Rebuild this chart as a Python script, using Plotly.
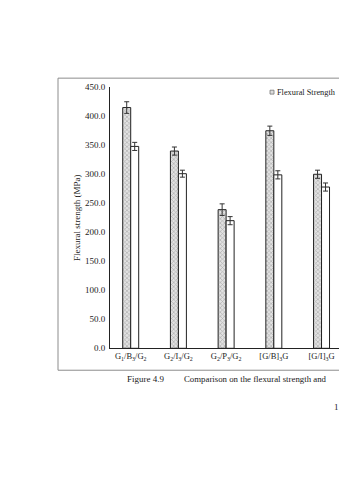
import plotly.graph_objects as go

categories = ["G<sub>1</sub>/B<sub>3</sub>/G<sub>2</sub>",
              "G<sub>2</sub>/I<sub>3</sub>/G<sub>2</sub>",
              "G<sub>2</sub>/P<sub>3</sub>/G<sub>2</sub>",
              "[G/B]<sub>3</sub>G",
              "[G/I]<sub>3</sub>G"]
strength_a = [415, 340, 239, 375, 300]
strength_a_err = [10, 7, 10, 8, 7]
strength_b = [348, 301, 220, 299, 278]
strength_b_err = [7, 6, 7, 7, 7]
y_ticks = [0, 50, 100, 150, 200, 250, 300, 350, 400, 450]
legend_label = "Flexural Strength"

W, H = 339, 480
FONT = "Liberation Serif"

fig = go.Figure()
fig.add_trace(go.Bar(
    x=categories, y=strength_a, name="Flexural Strength",
    marker=dict(color="white", line=dict(color="#222", width=1),
                pattern=dict(shape="x", fgcolor="#7a7a7a", bgcolor="#e2e2e2", size=3, solidity=0.4)),
    error_y=dict(type="data", array=strength_a_err, color="#333", thickness=1, width=2.5),
    showlegend=False,
))
fig.add_trace(go.Bar(
    x=categories, y=strength_b, name="Flexural Modulus",
    marker=dict(color="white", line=dict(color="#222", width=1)),
    error_y=dict(type="data", array=strength_b_err, color="#333", thickness=1, width=2.5),
    showlegend=False,
))

x0 = 110 / W
y_bot = 1 - 350.6 / H
y_top = 1 - 84 / H

def px(x):
    return x / W

def py(y):
    return 1 - y / H

frame_path = f"M {1.0},{py(74.7)} L {px(58)},{py(74.7)} L {px(58)},{py(373)} L {1.0},{py(373)}"

shapes = [
    dict(type="path", xref="paper", yref="paper", path=frame_path,
         line=dict(color="#8c8c8c", width=1), layer="below"),
    dict(type="rect", xref="paper", yref="paper", x0=px(270), x1=px(274), y0=py(91), y1=py(87),
         line=dict(color="#777", width=0.8), fillcolor="#dcdcdc"),
]

fig.update_layout(
    width=W, height=H, margin=dict(l=0, r=0, t=0, b=0),
    paper_bgcolor="white", plot_bgcolor="rgba(0,0,0,0)",
    barmode="group", bargap=0.665, bargroupgap=0,
    font=dict(family=FONT, size=9, color="#222"),
    xaxis=dict(domain=[x0, 1], range=[-0.434, 4.366], showline=True, linecolor="#222",
               linewidth=1, ticks="", showgrid=False, tickfont=dict(size=8.5), ticklabelstandoff=0),
    yaxis=dict(domain=[y_bot, y_top], range=[0, 450], tickvals=y_ticks, tickformat=".1f",
               showline=True, linecolor="#222", linewidth=1, ticks="", showgrid=False,
               zeroline=False, tickfont=dict(size=9), ticklabelstandoff=2,
               title=dict(text="Flexural strength (MPa)", font=dict(size=9), standoff=2)),
    showlegend=False,
    shapes=shapes,
    annotations=[
        dict(text=legend_label, xref="paper", yref="paper", x=px(274.5), y=py(89),
             xanchor="left", yanchor="middle", showarrow=False, font=dict(size=8.3)),
        dict(text="Figure 4.9", xref="paper", yref="paper", x=px(125), y=py(381.5),
             xanchor="left", yanchor="middle", showarrow=False, font=dict(size=9)),
        dict(text="Comparison on the flexural strength and", xref="paper", yref="paper",
             x=px(182), y=py(381.5), xanchor="left", yanchor="middle", showarrow=False,
             font=dict(size=8.8)),
        dict(text="1", xref="paper", yref="paper", x=px(331.5), y=py(411),
             xanchor="left", yanchor="middle", showarrow=False, font=dict(size=9)),
    ],
)

fig.write_html("out.html")
